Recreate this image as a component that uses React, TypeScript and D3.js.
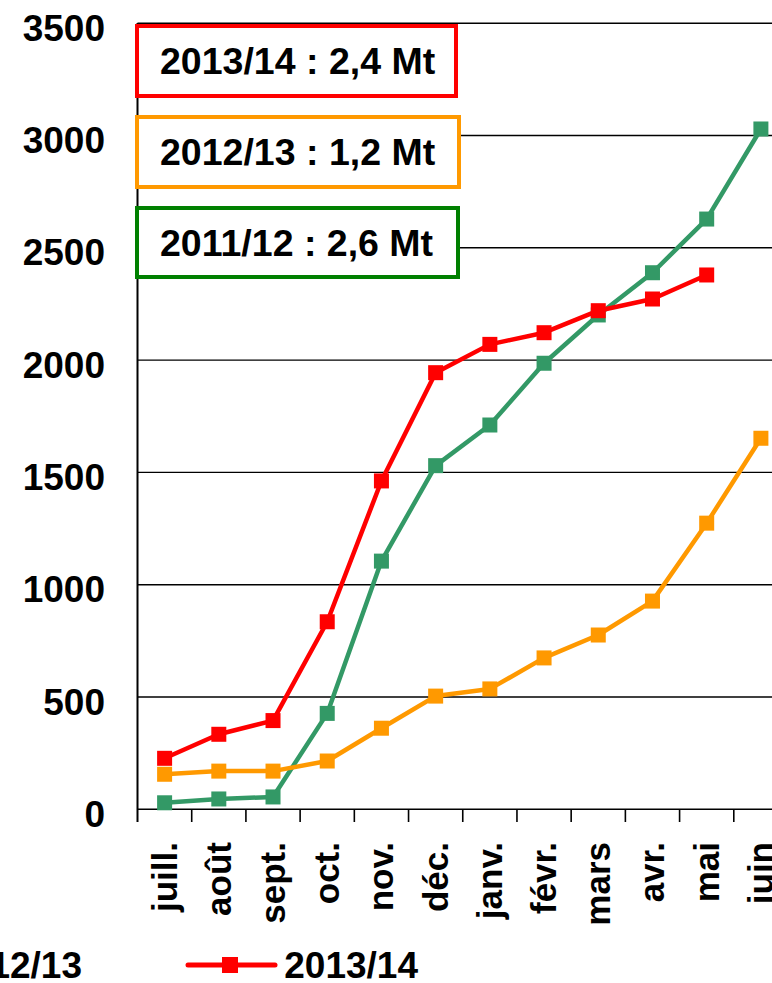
import React from "react";
import * as d3 from "d3";

const months = ["juill.", "août", "sept.", "oct.", "nov.", "déc.", "janv.", "févr.", "mars", "avr.", "mai", "juin"];
const series1112 = [29, 46, 55, 427, 1105, 1530, 1711, 1986, 2201, 2389, 2628, 3029];
const series1213 = [156, 170, 170, 215, 361, 504, 536, 674, 776, 927, 1274, 1652];
const series1314 = [227, 334, 395, 835, 1462, 1944, 2070, 2122, 2220, 2272, 2379];
const yTicks = [0, 500, 1000, 1500, 2000, 2500, 3000, 3500];
const seriesNames = ["2011/12", "2012/13", "2013/14"];
const seriesColors = ["#339966", "#FF9900", "#FF0000"];
const boxTexts = ["2013/14 : 2,4 Mt", "2012/13 : 1,2 Mt", "2011/12 : 2,6 Mt"];
const boxColors = ["#FF0000", "#FF9900", "#008000"];

const W = 772;
const H = 983;
const FONT = "'Liberation Sans', Arial, sans-serif";

export default function App() {
  const x = d3.scaleBand<string>().domain(months).range([137.5, 788]);
  const y = d3.scaleLinear().domain([0, 3500]).range([809.3, 23.2]);
  const all = [series1112, series1213, series1314];
  const line = d3
    .line<number>()
    .x((_, i) => (x(months[i]) as number) + x.bandwidth() / 2)
    .y((d) => y(d));
  const ms = 15;
  const boxes = [
    { x0: 137, x1: 456, y0: 26, y1: 96 },
    { x0: 137, x1: 459, y0: 117, y1: 187 },
    { x0: 137, x1: 458, y0: 208, y1: 277 },
  ];
  const legendEnds = [-254, 82, 418];
  return (
    <svg
      width={W}
      height={H}
      style={{ position: "absolute", left: 0, top: 0, display: "block", background: "#fff" }}
      fontFamily={FONT}
    >
      {/* gridlines */}
      {yTicks.slice(1).map((t) => (
        <line key={t} x1={137.5} x2={W} y1={y(t)} y2={y(t)} stroke="#000" strokeWidth={1.4} />
      ))}
      {/* y labels */}
      {yTicks.map((t) => (
        <text key={t} x={105} y={y(t) + 17.5} textAnchor="end" fontSize={37} fontWeight="bold" fill="#000">
          {t}
        </text>
      ))}
      {/* axes */}
      <line x1={137.5} x2={137.5} y1={23} y2={822} stroke="#000" strokeWidth={2} />
      <line x1={137.5} x2={W} y1={809.3} y2={809.3} stroke="#000" strokeWidth={1.6} />
      {months.map((m) => (
        <line
          key={"t" + m}
          x1={(x(m) as number) + x.bandwidth()}
          x2={(x(m) as number) + x.bandwidth()}
          y1={809.3}
          y2={822}
          stroke="#000"
          strokeWidth={1.6}
        />
      ))}
      {/* x labels */}
      {months.map((m) => {
        const cx = (x(m) as number) + x.bandwidth() / 2 + 12;
        return (
          <text
            key={"l" + m}
            transform={`translate(${cx},842) rotate(-90)`}
            textAnchor="end"
            fontSize={35}
            fontWeight="bold"
            fill="#000"
          >
            {m}
          </text>
        );
      })}
      {/* series */}
      {all.map((s, k) => (
        <g key={"s" + k}>
          <path d={line(s) as string} fill="none" stroke={seriesColors[k]} strokeWidth={4.5} strokeLinejoin="round" />
          {s.map((v, i) => (
            <rect
              key={i}
              x={(x(months[i]) as number) + x.bandwidth() / 2 - ms / 2}
              y={y(v) - ms / 2}
              width={ms}
              height={ms}
              fill={seriesColors[k]}
            />
          ))}
        </g>
      ))}
      {/* boxes */}
      {boxes.map((b, i) => (
        <g key={"b" + i}>
          <rect x={b.x0} y={b.y0} width={b.x1 - b.x0} height={b.y1 - b.y0} fill="#fff" stroke={boxColors[i]} strokeWidth={4} />
          <text x={160} y={(b.y0 + b.y1) / 2 + 13} fontSize={37.5} fontWeight="bold" fill="#000">
            {boxTexts[i]}
          </text>
        </g>
      ))}
      {/* legend */}
      {seriesNames.map((n, i) => {
        const te = legendEnds[i];
        const ts = te - 136;
        return (
          <g key={"lg" + i}>
            <line x1={ts - 94} x2={ts - 7} y1={965} y2={965} stroke={seriesColors[i]} strokeWidth={5} strokeLinecap="round" />
            <rect x={ts - 52 - 8} y={965 - 8} width={16} height={16} fill={seriesColors[i]} />
            <text x={te} y={978} textAnchor="end" fontSize={37} fontWeight="bold" fill="#000">
              {n}
            </text>
          </g>
        );
      })}
    </svg>
  );
}
